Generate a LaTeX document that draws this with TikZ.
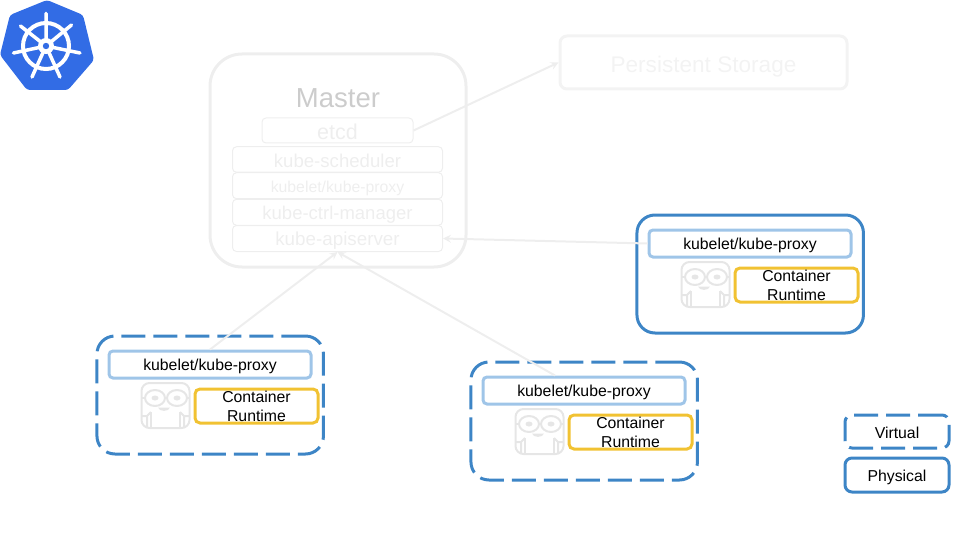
\documentclass[tikz,border=0pt]{standalone}
\usepackage{fontspec}
\setmainfont{Liberation Sans}
\usetikzlibrary{arrows.meta}
\definecolor{vblue}{HTML}{3D85C6}
\definecolor{lblue}{HTML}{9FC5E8}
\definecolor{cyellow}{HTML}{F1C232}
\definecolor{logoblue}{HTML}{326CE5}
\definecolor{fade}{HTML}{EEEEEE}
\definecolor{fadeb}{HTML}{F3F3F3}
\definecolor{fadet}{HTML}{CCCCCC}
\definecolor{robot}{HTML}{E6E6E6}
\newcommand{\fs}[1]{\fontsize{#1}{19}\selectfont}
\newcommand{\dropt}[2]{\raisebox{-#1pt}{#2}}
\tikzset{
  x=1pt,y=-1pt,
  box/.style={draw,rectangle,inner sep=0pt},
  tsize/.style={font=\fs{#1},text height={0.72*#1 pt},text depth={0.21*#1 pt}},
  physical/.style={box,draw=vblue,line width=3pt},
  virtual/.style={box,draw=vblue,line width=3pt,dash pattern=on 24pt off 8pt},
  masterpart/.style={box,draw=fade,line width=1pt,rounded corners=4pt,minimum height=26pt,text=fade},
  link/.style={draw=fade,line width=2pt,-{Stealth[length=8pt,width=8pt,inset=3pt]}},
  pics/worker/.style={code={
    \node[#1,rounded corners=18pt,minimum width=226.5pt,minimum height=118pt] (-box) at (113.2,59) {};
    \node[box,draw=lblue,line width=3pt,rounded corners=4pt,minimum width=202pt,minimum height=27pt,tsize=15.8] (-kp) at (113,28.5) {\dropt{2}{kubelet/kube-proxy}};
    \begin{scope}[draw=robot,line width=2pt,fill=robot]
      \draw[rounded corners=8pt,fill=none] (44.5,92) -- (44.5,47) -- (92.5,47) -- (92.5,92) -- cycle;
      \draw[fill=white] (58,62) ellipse (10 and 8);
      \draw[fill=white] (80,62) ellipse (10 and 8);
      \draw (44,62) -- (48,62) (90,62) -- (93,62);
      \fill (58,62) ellipse (3.5 and 2.5);
      \fill (80,62) ellipse (3.5 and 2.5);
      \fill (61,71.5) -- (73,71.5) .. controls (72,76) and (62,76) .. (61,71.5) -- cycle;
      \draw (44.5,80) -- (50,80) -- (50,92) (92.5,80) -- (87,80) -- (87,92) (50,80) -- (54,76) (87,80) -- (83,76);
      \draw (54,76) -- (54,92) (83,76) -- (83,92);
    \end{scope}
    \node[box,draw=cyellow,line width=3pt,rounded corners=5pt,minimum width=123pt,minimum height=34pt,font=\fs{15.8},align=center] (-cr) at (159.5,70) {Container\\Runtime};
  }},
}
\begin{document}
\begin{tikzpicture}
\useasboundingbox (0,0) rectangle (960,540);
% logo
\fill[logoblue,rounded corners=3pt] (47,0) -- (83,15) -- (94,60) -- (68,90) -- (27,90) -- (0,55) -- (10,15) -- cycle;
\draw[white,line width=4pt] (46,46) circle (23);
\draw[white,line width=3.5pt,line cap=round]
  (46,46) -- (46,13.5) (46,46) -- (71.5,25) (46,46) -- (80,53) (46,46) -- (60,77)
  (46,46) -- (32,77) (46,46) -- (13.5,53) (46,46) -- (20.5,26);
\fill[white] (46,46) circle (8);
\fill[logoblue] (46,46) circle (3.2);
% master
\node[box,draw=fade,line width=3pt,rounded corners=32pt,minimum width=256pt,minimum height=213pt] (master) at (338,160.5) {};
\node[text=fadet,tsize=27.5,inner sep=0pt] (title) at (338,100) {Master};
\node[masterpart,minimum width=151pt,minimum height=25pt,tsize=21.5] (etcd) at (337.5,130.5) {\dropt{3.5}{etcd}};
\node[masterpart,minimum width=210pt,minimum height=25.5pt,tsize=18.6] (sched) at (337.5,159.5) {\dropt{3}{kube-scheduler}};
\node[masterpart,minimum width=210pt,tsize=15.8] (mkp) at (337.5,185.7) {\dropt{3}{kubelet/kube-proxy}};
\node[masterpart,minimum width=210pt,tsize=18.5] (ctrl) at (337.5,212.3) {\dropt{2.5}{kube-ctrl-manager}};
\node[masterpart,minimum width=210pt,tsize=18.8] (api) at (337.5,238.5) {\dropt{2}{kube-apiserver}};
% storage
\node[box,draw=fadeb,line width=3pt,rounded corners=7pt,minimum width=287pt,minimum height=53pt,text=fadeb,tsize=22.6] (store) at (703.5,62.5) {\dropt{4}{Persistent Storage}};
% workers
\pic (nr) at (637,215) {worker={physical}};
\pic (nl) at (97,336) {worker={virtual}};
\pic (nm) at (471,362) {worker={virtual}};
% legend
\node[virtual,rounded corners=7pt,minimum width=104pt,minimum height=33pt,tsize=15.8] (lv) at (897,431.5) {\dropt{3}{Virtual}};
\node[physical,rounded corners=7pt,minimum width=104pt,minimum height=34pt,tsize=15.8] (lp) at (897,475) {\dropt{2}{Physical}};
% connectors
\coordinate (mstart) at ([xshift=-29pt]nm-kp.north);
\draw[link] (etcd.east) -- (store.west);
\draw[link] (nr-kp.west) -- (api.east);
\draw[link] (nl-kp.north) -- (api.south);
\draw[link] (mstart) -- (api.south);
\end{tikzpicture}
\end{document}
